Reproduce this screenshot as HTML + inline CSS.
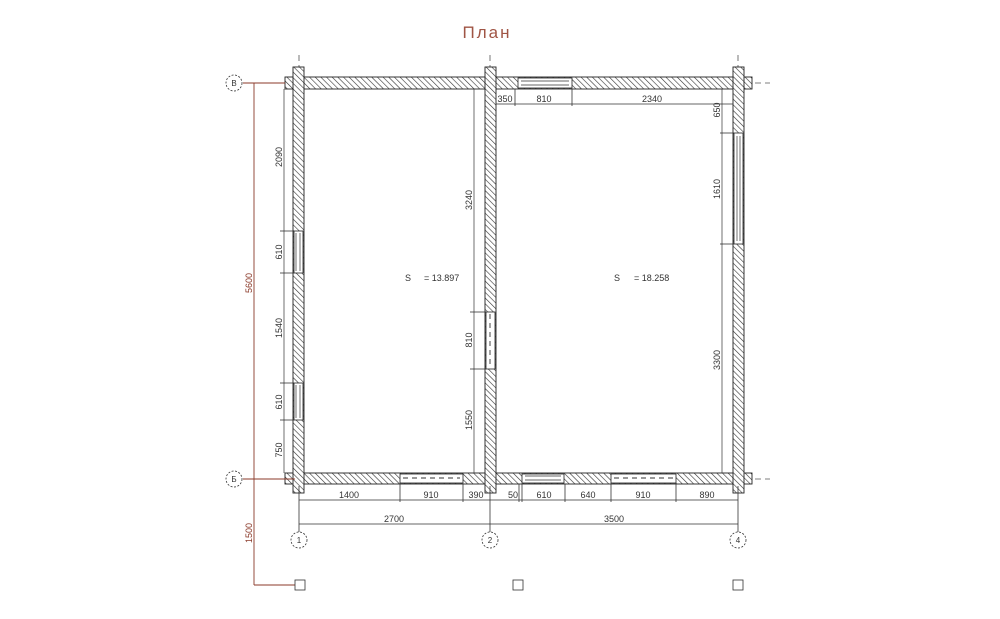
<!DOCTYPE html>
<html><head><meta charset="utf-8"><style>
body{margin:0;background:#fff;width:1000px;height:614px;overflow:hidden}
svg text{font-family:"Liberation Sans",sans-serif;font-size:9px;fill:#333}
</style></head><body>
<svg width="1000" height="614" viewBox="0 0 1000 614" xmlns="http://www.w3.org/2000/svg">
<defs>
<pattern id="h" width="4" height="4" patternUnits="userSpaceOnUse" patternTransform="rotate(-45)">
<rect width="4" height="4" fill="#fff"/><line x1="0" y1="0" x2="0" y2="4" stroke="#333" stroke-width="1.2"/>
</pattern>
</defs>
<text x="487" y="38" text-anchor="middle" style="font-size:17px;fill:#a05545;letter-spacing:2px;font-weight:normal">План</text>

<!-- axis dashed lines -->
<g stroke="#555" stroke-width="0.8" stroke-dasharray="6,4" fill="none">
<line x1="299" y1="55" x2="299" y2="70"/><line x1="490" y1="55" x2="490" y2="70"/><line x1="738" y1="55" x2="738" y2="70"/>
<line x1="755" y1="83" x2="770" y2="83"/><line x1="755" y1="479" x2="770" y2="479"/>
</g>

<!-- walls -->
<g fill="url(#h)" stroke="#222" stroke-width="0.9">
<rect x="285" y="77" width="467" height="12"/>
<rect x="285" y="473" width="467" height="11"/>
<rect x="293" y="67" width="11" height="426"/>
<rect x="485" y="67" width="11" height="426"/>
<rect x="733" y="67" width="11" height="426"/>
</g>
<!-- openings -->
<g fill="#fff" stroke="#222" stroke-width="0.8">
<rect x="294" y="231" width="9" height="42"/>
<rect x="294" y="383" width="9" height="37"/>
<rect x="486" y="312" width="9" height="57"/>
<rect x="518" y="78" width="54" height="10"/>
<rect x="734" y="133" width="9" height="111"/>
<rect x="400" y="474" width="63" height="9"/>
<rect x="522" y="474" width="42" height="9"/>
<rect x="611" y="474" width="65" height="9"/>
</g>
<g stroke="#333" stroke-width="0.7">
<line x1="296" y1="233" x2="296" y2="271"/><line x1="300" y1="233" x2="300" y2="271"/>
<line x1="296" y1="385" x2="296" y2="418"/><line x1="300" y1="385" x2="300" y2="418"/>
<line x1="521" y1="81" x2="569" y2="81"/><line x1="521" y1="85" x2="569" y2="85"/>
<line x1="737" y1="136" x2="737" y2="241"/><line x1="740" y1="136" x2="740" y2="241"/>
<line x1="525" y1="476" x2="561" y2="476"/><line x1="525" y1="480" x2="561" y2="480"/>
</g>
<g stroke="#333" stroke-width="0.9" stroke-dasharray="5,4">
<line x1="403" y1="478" x2="460" y2="478"/><line x1="614" y1="478" x2="673" y2="478"/>
<line x1="490" y1="314" x2="490" y2="367"/>
</g>

<!-- inner thin lines -->
<g stroke="#333" stroke-width="0.7" fill="none">
<line x1="474" y1="89" x2="474" y2="473"/>
<line x1="722" y1="89" x2="722" y2="473"/>
<line x1="496" y1="104" x2="733" y2="104"/>
<line x1="284" y1="89" x2="284" y2="473"/>
<line x1="299" y1="500" x2="738" y2="500"/>
<line x1="299" y1="524" x2="738" y2="524"/>
</g>
<!-- ticks -->
<g stroke="#333" stroke-width="0.8">
<line x1="299" y1="486" x2="299" y2="532"/><line x1="490" y1="486" x2="490" y2="532"/><line x1="738" y1="486" x2="738" y2="532"/>
<line x1="400" y1="484" x2="400" y2="502"/><line x1="463" y1="484" x2="463" y2="502"/>
<line x1="519" y1="484" x2="519" y2="502"/><line x1="522" y1="484" x2="522" y2="502"/>
<line x1="565" y1="484" x2="565" y2="502"/><line x1="611" y1="484" x2="611" y2="502"/><line x1="676" y1="484" x2="676" y2="502"/>
<line x1="515" y1="89" x2="515" y2="106"/><line x1="572" y1="89" x2="572" y2="106"/>
<line x1="280" y1="231" x2="294" y2="231"/><line x1="280" y1="273" x2="294" y2="273"/>
<line x1="280" y1="383" x2="294" y2="383"/><line x1="280" y1="420" x2="294" y2="420"/>
<line x1="470" y1="312" x2="486" y2="312"/><line x1="470" y1="369" x2="486" y2="369"/>
<line x1="720" y1="133" x2="734" y2="133"/><line x1="720" y1="244" x2="734" y2="244"/>
</g>

<!-- left red dims -->
<g stroke="#8b3a2a" stroke-width="0.9" fill="none">
<line x1="243" y1="83" x2="285" y2="83"/>
<line x1="243" y1="479" x2="295" y2="479"/>
<line x1="254" y1="83" x2="254" y2="585"/>
<line x1="254" y1="585" x2="295" y2="585"/>
</g>
<g fill="#fff" stroke="#333" stroke-width="0.8">
<rect x="295" y="580" width="10" height="10"/><rect x="513" y="580" width="10" height="10"/><rect x="733" y="580" width="10" height="10"/>
</g>
<g fill="#fff" stroke="#333" stroke-width="0.8" stroke-dasharray="2,1.5">
<circle cx="234" cy="83" r="8"/><circle cx="234" cy="479" r="8"/>
<circle cx="299" cy="540" r="8"/><circle cx="490" cy="540" r="8"/><circle cx="738" cy="540" r="8"/>
</g>
<text x="234" y="86" text-anchor="middle" style="font-size:8px">В</text>
<text x="234" y="482" text-anchor="middle" style="font-size:8px">Б</text>
<text x="299" y="543" text-anchor="middle" style="font-size:8px">1</text>
<text x="490" y="543" text-anchor="middle" style="font-size:8px">2</text>
<text x="738" y="543" text-anchor="middle" style="font-size:8px">4</text>

<!-- dimension texts -->
<text x="349" y="498" text-anchor="middle">1400</text>
<text x="431" y="498" text-anchor="middle">910</text>
<text x="476" y="498" text-anchor="middle">390</text>
<text x="513" y="498" text-anchor="middle">50</text>
<text x="544" y="498" text-anchor="middle">610</text>
<text x="588" y="498" text-anchor="middle">640</text>
<text x="643" y="498" text-anchor="middle">910</text>
<text x="707" y="498" text-anchor="middle">890</text>
<text x="394" y="522" text-anchor="middle">2700</text>
<text x="614" y="522" text-anchor="middle">3500</text>
<text x="505" y="102" text-anchor="middle">350</text>
<text x="544" y="102" text-anchor="middle">810</text>
<text x="652" y="102" text-anchor="middle">2340</text>
<text x="405" y="281">S</text><text x="424" y="281">= 13.897</text>
<text x="614" y="281">S</text><text x="634" y="281">= 18.258</text>
<g>
<text transform="translate(282,157) rotate(-90)" text-anchor="middle">2090</text>
<text transform="translate(282,252) rotate(-90)" text-anchor="middle">610</text>
<text transform="translate(282,328) rotate(-90)" text-anchor="middle">1540</text>
<text transform="translate(282,402) rotate(-90)" text-anchor="middle">610</text>
<text transform="translate(282,450) rotate(-90)" text-anchor="middle">750</text>
<text transform="translate(472,200) rotate(-90)" text-anchor="middle">3240</text>
<text transform="translate(472,340) rotate(-90)" text-anchor="middle">810</text>
<text transform="translate(472,420) rotate(-90)" text-anchor="middle">1550</text>
<text transform="translate(720,110) rotate(-90)" text-anchor="middle">650</text>
<text transform="translate(720,189) rotate(-90)" text-anchor="middle">1610</text>
<text transform="translate(720,360) rotate(-90)" text-anchor="middle">3300</text>
<text transform="translate(252,283) rotate(-90)" text-anchor="middle" style="fill:#8b3a2a">5600</text>
<text transform="translate(252,533) rotate(-90)" text-anchor="middle" style="fill:#8b3a2a">1500</text>
</g>
</svg>
</body></html>
